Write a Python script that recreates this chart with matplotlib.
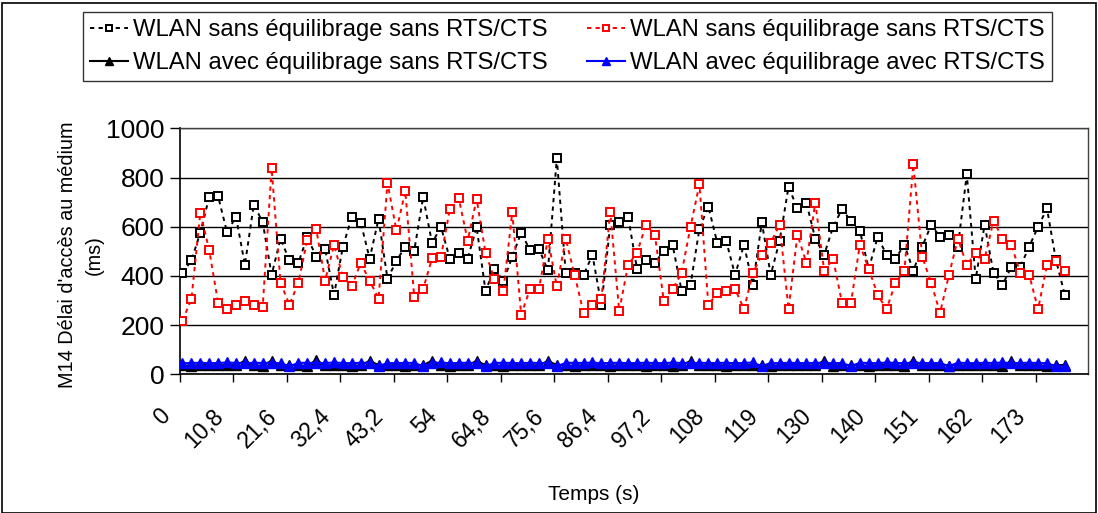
import matplotlib
matplotlib.use("Agg")
import matplotlib.pyplot as plt
import matplotlib.transforms as mtransforms
from matplotlib.patches import Rectangle
import numpy as np

plt.rcParams['font.family'] = ['Liberation Sans', 'DejaVu Sans']

# ---------------- data ----------------
tick_labels = ["0", "10,8", "21,6", "32,4", "43,2", "54", "64,8", "75,6", "86,4",
               "97,2", "108", "119", "130", "140", "151", "162", "173"]

series_names = ["WLAN sans équilibrage sans RTS/CTS",
                "WLAN sans équilibrage sans RTS/CTS",
                "WLAN avec équilibrage sans RTS/CTS",
                "WLAN avec équilibrage avec RTS/CTS"]

sans_eq_1 = [412, 463, 576, 721, 723, 577, 641, 445, 690, 618,
             404, 551, 463, 453, 559, 478, 510, 323, 519, 640,
             617, 470, 632, 388, 461, 519, 502, 721, 534, 599,
             470, 494, 470, 599, 339, 429, 378, 478, 576, 504,
             510, 422, 878, 412, 412, 404, 485, 282, 607, 618,
             640, 429, 463, 453, 502, 525, 339, 363, 592, 682,
             535, 543, 404, 527, 363, 618, 404, 543, 762, 674,
             698, 551, 486, 599, 672, 623, 584, 429, 558, 486,
             470, 527, 421, 519, 607, 559, 568, 519, 813, 388,
             608, 412, 363, 437, 437, 519, 600, 674, 465, 323]

sans_eq_2 = [218, 306, 657, 504, 290, 265, 283, 299, 282, 275,
             837, 372, 283, 372, 546, 592, 381, 525, 396, 358,
             453, 380, 308, 778, 585, 744, 316, 347, 471, 478,
             671, 715, 543, 713, 494, 388, 339, 659, 242, 347,
             347, 551, 357, 551, 404, 250, 283, 308, 659, 257,
             445, 494, 608, 568, 299, 347, 412, 600, 772, 282,
             331, 339, 347, 265, 412, 486, 535, 608, 265, 568,
             453, 698, 421, 470, 290, 290, 527, 429, 323, 265,
             372, 421, 853, 478, 372, 250, 404, 551, 445, 494,
             470, 625, 551, 527, 412, 404, 265, 445, 461, 421]

avec_eq_sans_rts = [36, 35, 38, 37, 36, 38, 37, 55, 36, 35,
                    56, 37, 38, 36, 35, 57, 37, 36, 38, 35,
                    36, 55, 37, 36, 38, 35, 37, 36, 56, 37,
                    35, 38, 36, 55, 37, 36, 35, 38, 37, 36,
                    37, 54, 38, 36, 35, 37, 38, 36, 35, 37,
                    36, 38, 35, 37, 36, 35, 38, 54, 36, 37,
                    38, 35, 37, 36, 38, 37, 35, 36, 38, 37,
                    36, 37, 55, 35, 38, 37, 36, 35, 37, 38,
                    36, 35, 56, 37, 36, 38, 35, 37, 36, 38,
                    37, 36, 35, 54, 37, 38, 36, 35, 37, 38]

avec_eq_avec_rts = [45, 46, 47, 45, 46, 48, 46, 45, 47, 46,
                    46, 45, 33, 46, 47, 45, 46, 48, 46, 45,
                    47, 46, 33, 46, 45, 47, 46, 33, 46, 48,
                    45, 46, 47, 45, 33, 46, 47, 46, 45, 47,
                    46, 45, 33, 46, 47, 46, 48, 45, 46, 47,
                    45, 46, 47, 46, 45, 48, 46, 45, 47, 46,
                    46, 47, 45, 46, 48, 33, 46, 45, 47, 46,
                    45, 47, 46, 45, 46, 33, 47, 46, 45, 48,
                    46, 45, 47, 46, 45, 46, 33, 47, 46, 45,
                    47, 46, 48, 45, 46, 47, 46, 45, 33, 33]

# ---------------- figure ----------------
W, H = 1098, 513
fig = plt.figure(figsize=(W / 100, H / 100), dpi=100)
fig.patch.set_facecolor('white')

left, right, top, bottom = 180, 1088, 128.3, 374.3
ax = fig.add_axes([left / W, 1 - bottom / H, (right - left) / W, (bottom - top) / H])

x = np.arange(len(sans_eq_1))
dash = (0, (2.2, 2.2))

l1, = ax.plot(x, sans_eq_1, color='black', lw=1.4, linestyle=dash, marker='s',
              markersize=5.3, markerfacecolor='white', markeredgecolor='black',
              markeredgewidth=1.4, zorder=3)
l2, = ax.plot(x, sans_eq_2, color='#FF0000', lw=1.4, linestyle=dash, marker='s',
              markersize=5.3, markerfacecolor='white', markeredgecolor='#FF0000',
              markeredgewidth=1.4, zorder=3)
l3, = ax.plot(x, avec_eq_sans_rts, color='black', lw=1.5, marker='^',
              markersize=7.5, markerfacecolor='black', markeredgecolor='black', zorder=4)
l4, = ax.plot(x, avec_eq_avec_rts, color='#0000FF', lw=1.5, marker='^',
              markersize=7.5, markerfacecolor='#0000FF', markeredgecolor='#0000FF', zorder=5)

ax.set_ylim(0, 1000)
ax.set_yticks([0, 200, 400, 600, 800, 1000])
ax.yaxis.grid(True, color='black', lw=1)
ax.set_axisbelow(True)

ax.set_xlim(-0.28, 101.6)
tick_pos = [6 * i - 0.28 for i in range(len(tick_labels))]
ax.set_xticks(tick_pos)
ax.set_xticklabels([])
label_tr = ax.get_xaxis_transform() + mtransforms.ScaledTranslation(
    -13.8 / 100, -38.5 / 100, fig.dpi_scale_trans)
for pos, lab in zip(tick_pos, tick_labels):
    ax.text(pos, 0, lab, transform=label_tr, rotation=45, ha='right', va='center',
            rotation_mode='anchor', fontsize=16.5, clip_on=False)

ax.tick_params(axis='x', direction='out', length=6, width=1)
ax.tick_params(axis='y', direction='out', length=7, width=1, pad=4, labelsize=19)

for s in ['left', 'bottom']:
    ax.spines[s].set_color('black')
    ax.spines[s].set_linewidth(1.2)
for s in ['top', 'right']:
    ax.spines[s].set_color('#404040')
    ax.spines[s].set_linewidth(1.0)

fig.text(594 / W, 1 - 494 / H, "Temps (s)", ha='center', va='center', fontsize=15)
fig.text(81 / W, 1 - 255 / H, "M14 Délai d'accès au médium\n(ms)", ha='center',
         va='center', rotation=90, fontsize=14.3, multialignment='center', linespacing=1.55)

leg = fig.legend([l1, l3, l2, l4],
                 [series_names[0], series_names[2], series_names[1], series_names[3]],
                 ncol=2, loc='upper left', bbox_to_anchor=(83 / W, 1 - 12 / H),
                 borderaxespad=0, fontsize=17.2, frameon=True, fancybox=False,
                 handlelength=1.6, handletextpad=0.2, columnspacing=1.65,
                 labelspacing=0.45, borderpad=0.3, markerscale=0.75)
leg.get_frame().set_edgecolor('black')
leg.get_frame().set_linewidth(1.0)

fig.patches.append(Rectangle((2 / W, 0), (W - 4) / W, 1 - 3 / H, transform=fig.transFigure,
                             fill=False, edgecolor='black', lw=1.2))

fig.savefig("out.png", dpi=100)
